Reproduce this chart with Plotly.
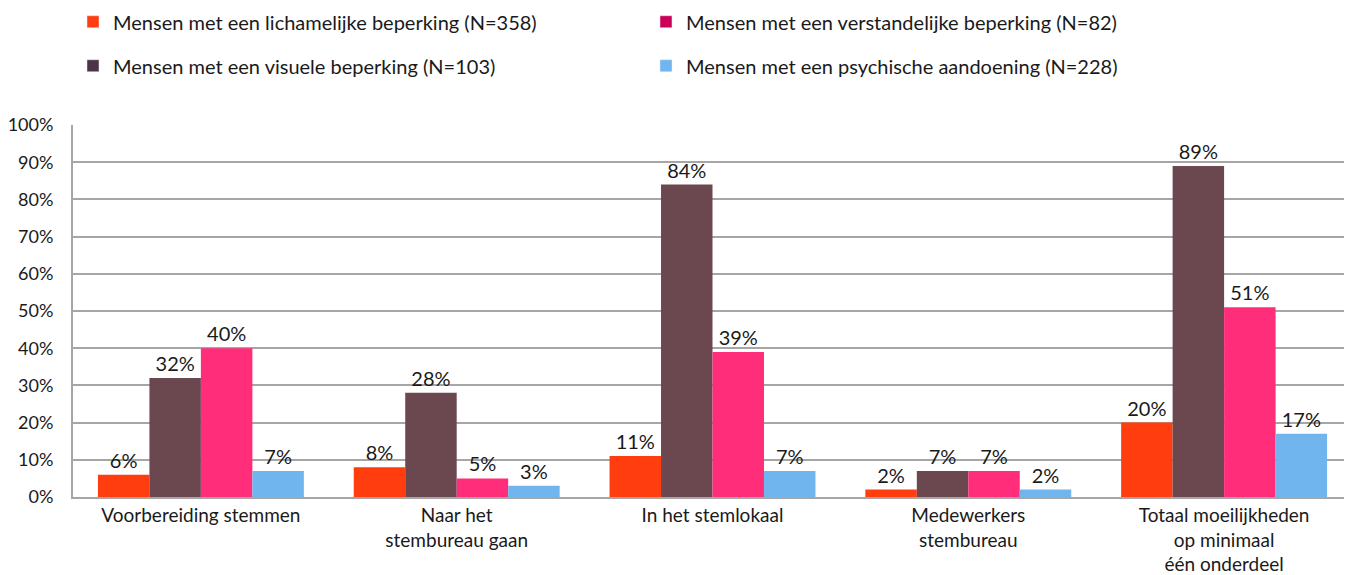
import plotly.graph_objects as go

categories = [
    "Voorbereiding stemmen",
    "Naar het<br>stembureau gaan",
    "In het stemlokaal",
    "Medewerkers<br>stembureau",
    "Totaal moeilijkheden<br>op minimaal<br>één onderdeel",
]
series_names = [
    "Mensen met een lichamelijke beperking (N=358)",
    "Mensen met een visuele beperking (N=103)",
    "Mensen met een verstandelijke beperking (N=82)",
    "Mensen met een psychische aandoening (N=228)",
]
lichamelijk = [6, 8, 11, 2, 20]
visueel = [32, 28, 84, 7, 89]
verstandelijk = [40, 5, 39, 7, 51]
psychisch = [7, 3, 7, 2, 17]
values = [lichamelijk, visueel, verstandelijk, psychisch]

bar_colors = ["#FF3D0F", "#6B4850", "#FF2D7A", "#70B5EE"]
legend_colors = ["#FF3D0F", "#4D3347", "#CC0055", "#70B5EE"]
legend_ids = ["legend", "legend", "legend2", "legend2"]

FONT = "Lato"
TXT = "#1a1a1a"

fig = go.Figure()
for name, vals, col in zip(series_names, values, bar_colors):
    fig.add_trace(go.Bar(
        x=categories, y=vals, name=name, marker_color=col,
        marker_line_width=0, showlegend=False,
        text=[f"{v}%" for v in vals], textposition="outside",
        textfont=dict(family=FONT, size=20, color=TXT),
        cliponaxis=False,
    ))

for i, (name, col, lg) in enumerate(zip(series_names, legend_colors, legend_ids)):
    fig.add_trace(go.Bar(
        x=[None], y=[None], name=name, marker_color=col,
        xaxis="x2", yaxis="y2", legend=lg, legendgroup=f"g{i}",
        showlegend=True,
    ))

fig.update_layout(
    width=1344, height=567,
    margin=dict(l=65, r=0, t=117, b=78, autoexpand=False),
    paper_bgcolor="white", plot_bgcolor="white",
    barmode="group", bargap=0.195, bargroupgap=0,
    font=dict(family=FONT, size=19, color=TXT),
    xaxis=dict(
        showgrid=False, showline=True, linecolor="#A6A6A6", linewidth=2,
        ticks="", tickfont=dict(family=FONT, size=19, color=TXT),
        automargin=False,
    ),
    yaxis=dict(
        range=[0, 100], dtick=10, ticksuffix="%",
        showgrid=True, gridcolor="#A6A6A6", gridwidth=2,
        showline=True, linecolor="#A6A6A6", linewidth=2,
        zeroline=False, ticks="", ticklabelstandoff=14,
        tickfont=dict(family=FONT, size=18, color=TXT),
        automargin=False,
    ),
    xaxis2=dict(overlaying="x", visible=False),
    yaxis2=dict(overlaying="y", visible=False),
    legend=dict(
        x=0.0, y=1.33, xanchor="left", yanchor="top",
        orientation="v", traceorder="grouped", tracegroupgap=15,
        font=dict(family=FONT, size=20, color=TXT), bgcolor="rgba(0,0,0,0)",
    ),
    legend2=dict(
        x=0.448, y=1.33, xanchor="left", yanchor="top",
        orientation="v", traceorder="grouped", tracegroupgap=15,
        font=dict(family=FONT, size=20, color=TXT), bgcolor="rgba(0,0,0,0)",
    ),
)

fig.write_html("out.html")
